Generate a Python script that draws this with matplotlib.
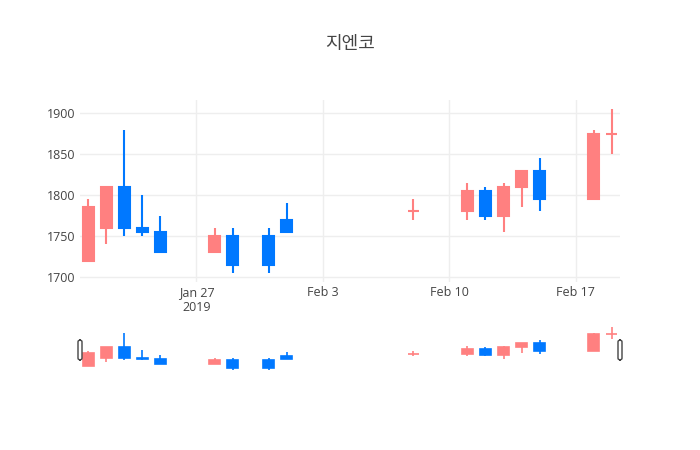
import matplotlib
matplotlib.use("Agg")
import matplotlib.pyplot as plt
import matplotlib.dates as mdates
from matplotlib.patches import FancyBboxPatch
import datetime as dt

plt.rcParams['font.family'] = ['Open Sans', 'Noto Sans CJK KR', 'DejaVu Sans']

# 지엔코 일봉 (2019-01-21 ~ 2019-02-19)
dates = ['2019-01-21', '2019-01-22', '2019-01-23', '2019-01-24', '2019-01-25',
         '2019-01-28', '2019-01-29', '2019-01-31', '2019-02-01', '2019-02-08',
         '2019-02-11', '2019-02-12', '2019-02-13', '2019-02-14', '2019-02-15',
         '2019-02-18', '2019-02-19']
opens = [1720, 1760, 1810, 1760, 1755, 1730, 1750, 1750, 1770, 1780,
         1780, 1805, 1775, 1810, 1830, 1795, 1875]
highs = [1795, 1810, 1880, 1800, 1775, 1760, 1760, 1760, 1790, 1795,
         1815, 1810, 1815, 1830, 1845, 1880, 1905]
lows = [1720, 1740, 1750, 1750, 1730, 1730, 1705, 1705, 1755, 1770,
        1770, 1770, 1755, 1785, 1780, 1795, 1850]
closes = [1785, 1810, 1760, 1755, 1730, 1750, 1715, 1715, 1755, 1780,
          1805, 1775, 1810, 1830, 1795, 1875, 1875]

tick_dates = ['2019-01-27', '2019-02-03', '2019-02-10', '2019-02-17']
tick_labels = ['Jan 27\n2019', 'Feb 3', 'Feb 10', 'Feb 17']
y_ticks = [1700, 1750, 1800, 1850, 1900]
title = '지엔코'

UP = '#FF8080'
DOWN = '#0078FF'
TXT = '#444444'

x = [mdates.date2num(dt.datetime.strptime(d, '%Y-%m-%d')) for d in dates]
xt = [mdates.date2num(dt.datetime.strptime(d, '%Y-%m-%d')) for d in tick_dates]


def draw_candles(ax, lw):
    for xi, o, h, l, c in zip(x, opens, highs, lows, closes):
        col = UP if c >= o else DOWN
        ax.vlines(xi, l, h, color=col, linewidth=lw, zorder=2)
        ax.bar(xi, abs(c - o), bottom=min(o, c), width=0.6, color=col,
               edgecolor=col, linewidth=lw, zorder=3)


fig = plt.figure(figsize=(7, 4.5), dpi=100)
ax = fig.add_axes([80 / 700, 168 / 450, 540 / 700, 182 / 450])
draw_candles(ax, 1.5)
xmin, xmax = x[0] - 0.45, x[-1] + 0.45
ax.set_xlim(xmin, xmax)
ax.set_ylim(1694, 1916)
ax.set_yticks(y_ticks)
ax.set_xticks(xt)
ax.set_xticklabels(tick_labels)
ax.grid(True, color='#eeeeee', linewidth=1, zorder=0)
ax.set_axisbelow(True)
for s in ax.spines.values():
    s.set_visible(False)
ax.tick_params(axis='both', length=0, labelsize=9, labelcolor=TXT)
ax.tick_params(axis='y', pad=3)
ax.tick_params(axis='x', pad=3)

fig.text(350 / 700, 1 - 44 / 450, title, ha='center', va='center',
         fontsize=13, color=TXT)

# range slider
rs = fig.add_axes([80 / 700, 78 / 450, 540 / 700, 47 / 450])
draw_candles(rs, 1.2)
rs.set_xlim(xmin, xmax)
rs.set_ylim(1694, 1916)
rs.set_xticks([])
rs.set_yticks([])
for s in rs.spines.values():
    s.set_visible(False)
rs.patch.set_alpha(0)

for hx in (80, 620):
    fig.patches.append(FancyBboxPatch(((hx - 2) / 700, 1 - 360 / 450), 4 / 700, 20 / 450,
                                      boxstyle='round,pad=0,rounding_size=0.004',
                                      transform=fig.transFigure, facecolor='white',
                                      edgecolor=TXT, linewidth=1, zorder=5))

fig.savefig('out.png', dpi=100)
